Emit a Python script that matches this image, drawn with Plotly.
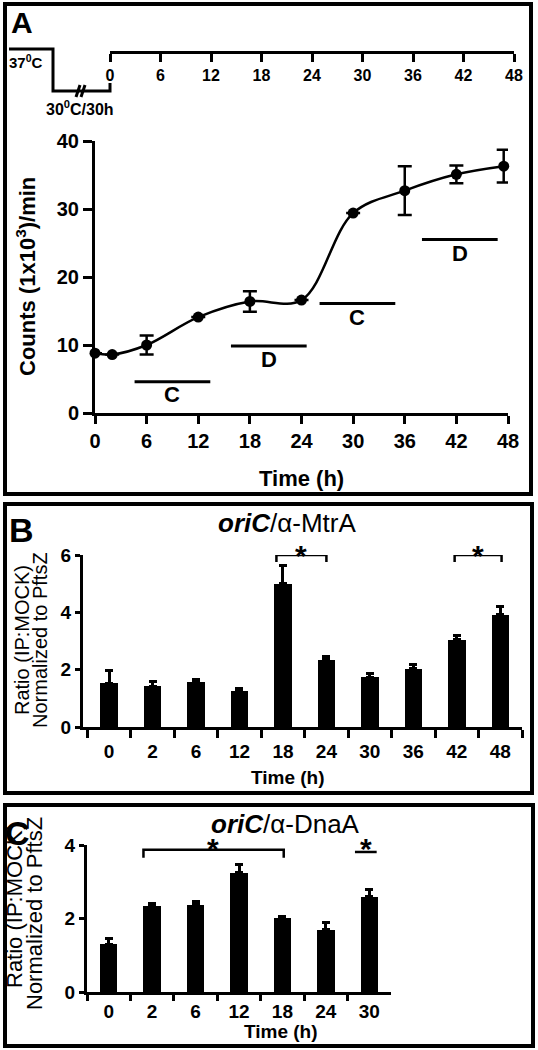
import plotly.graph_objects as go

W, H = 538, 1050
FONT = "Liberation Sans, Arial, sans-serif"

# ---------------- data ----------------
# Panel A: counts over time
a_time = [0, 2, 6, 12, 18, 24, 30, 36, 42, 47.5]
a_counts = [8.8, 8.6, 10.0, 14.1, 16.4, 16.6, 29.4, 32.7, 35.1, 36.3]
a_err = [0, 0, 1.4, 0, 1.5, 0, 0, 3.6, 1.3, 2.4]
a_ticks = [0, 6, 12, 18, 24, 30, 36, 42, 48]
a_yticks = [0, 10, 20, 30, 40]
phase_labels = ["C", "D", "C", "D"]
phase_start = [4.6, 15.8, 26.1, 38.0]
phase_end = [13.4, 24.6, 34.9, 46.8]
phase_level = [4.6, 9.85, 16.1, 25.5]
phase_label_level = [2.7, 7.9, 14.1, 23.5]
timeline_ticks = [0, 6, 12, 18, 24, 30, 36, 42, 48]

# Panel B: oriC / alpha-MtrA
b_cats = ["0", "2", "6", "12", "18", "24", "30", "36", "42", "48"]
b_vals = [1.53, 1.42, 1.58, 1.26, 4.99, 2.34, 1.74, 2.04, 3.04, 3.92]
b_err = [0.43, 0.17, 0.08, 0.09, 0.64, 0.12, 0.14, 0.15, 0.15, 0.28]
b_yticks = [0, 2, 4, 6]
b_sig_left = [3.85, 7.95]
b_sig_right = [5.0, 9.03]

# Panel C: oriC / alpha-DnaA
c_cats = ["0", "2", "6", "12", "18", "24", "30"]
c_vals = [1.30, 2.35, 2.38, 3.25, 2.02, 1.70, 2.59]
c_err = [0.15, 0.05, 0.07, 0.22, 0.04, 0.18, 0.20]
c_yticks = [0, 2, 4]


def px(x):
    return x / W


def py(y):
    return 1 - y / H


fig = go.Figure()

# Panel A curve
fig.add_trace(go.Scatter(
    x=a_time, y=a_counts, mode="lines+markers",
    line=dict(color="black", width=2.5, shape="spline", smoothing=1.0),
    marker=dict(color="black", size=11),
    error_y=dict(type="data", array=a_err, color="black", thickness=2.5, width=7),
    cliponaxis=False, xaxis="x", yaxis="y", showlegend=False))

# Panel B bars
fig.add_trace(go.Bar(
    x=b_cats, y=b_vals, width=0.4, marker=dict(color="black", line=dict(width=0)),
    error_y=dict(type="data", array=b_err, arrayminus=[0] * len(b_err), symmetric=False,
                 color="black", thickness=3, width=4),
    xaxis="x2", yaxis="y2", showlegend=False))

# Panel C bars
fig.add_trace(go.Bar(
    x=c_cats, y=c_vals, width=0.4, marker=dict(color="black", line=dict(width=0)),
    error_y=dict(type="data", array=c_err, arrayminus=[0] * len(c_err), symmetric=False,
                 color="black", thickness=3, width=4),
    xaxis="x3", yaxis="y3", showlegend=False))

# timeline helper trace (invisible)
fig.add_trace(go.Scatter(x=[0], y=[0], mode="markers", marker=dict(opacity=0),
                         xaxis="x4", yaxis="y4", showlegend=False, hoverinfo="skip"))

axis_common = dict(showgrid=False, zeroline=False, showline=True, linecolor="black",
                   ticks="outside", tickcolor="black", fixedrange=True, automargin=False)

fig.update_layout(
    template="none",
    width=W, height=H, margin=dict(l=0, r=0, t=0, b=0, pad=0), autosize=False,
    paper_bgcolor="white", plot_bgcolor="white",
    font=dict(family=FONT, color="black"),
    bargap=0,
    xaxis=dict(axis_common, domain=[px(95), px(508)], range=[0, 48], anchor="y",
               tickmode="array", tickvals=a_ticks, linewidth=3, ticklen=8, tickwidth=3,
               tickfont=dict(size=20, weight="bold")),
    yaxis=dict(axis_common, domain=[py(413), py(141)], range=[0, 40], anchor="x",
               tickmode="array", tickvals=a_yticks, linewidth=3, ticklen=9, tickwidth=3,
               tickfont=dict(size=20, weight="bold")),
    xaxis2=dict(axis_common, domain=[px(83), px(522)], range=[-0.6, 9.5], anchor="y2",
                type="category", tickson="boundaries", linewidth=3, ticklen=8, tickwidth=3,
                ticklabelstandoff=5, tickfont=dict(size=19, weight="bold")),
    yaxis2=dict(axis_common, domain=[py(727), py(555)], range=[0, 6], anchor="x2",
                tickmode="array", tickvals=b_yticks, linewidth=3, ticklen=5, tickwidth=3,
                tickfont=dict(size=19, weight="bold")),
    xaxis3=dict(axis_common, domain=[px(87), px(391)], range=[-0.5, 6.5], anchor="y3",
                type="category", tickson="boundaries", linewidth=3, ticklen=6, tickwidth=3,
                ticklabelstandoff=0, tickfont=dict(size=19, weight="bold")),
    yaxis3=dict(axis_common, domain=[py(992), py(845)], range=[0, 4], anchor="x3",
                tickmode="array", tickvals=c_yticks, linewidth=3, ticklen=5, tickwidth=3,
                tickfont=dict(size=19, weight="bold")),
    xaxis4=dict(axis_common, domain=[px(110), px(514)], range=[0, 48], anchor="y4",
                tickmode="array", tickvals=timeline_ticks, linewidth=3, ticklen=8, tickwidth=3,
                tickfont=dict(size=16, weight="bold")),
    yaxis4=dict(domain=[py(49) - 0.002, py(49)], range=[0, 1], visible=False, anchor="x4",
                fixedrange=True),
)

shapes = []
annos = []

# panel borders
for (x0, y0, x1, y1) in [(5, 4, 531, 494), (5, 504, 532, 793), (5, 805, 533, 1046)]:
    shapes.append(dict(type="rect", xref="paper", yref="paper",
                       x0=px(x0), x1=px(x1), y0=py(y1), y1=py(y0),
                       line=dict(color="black", width=4)))

# temperature step before timeline
shapes.append(dict(type="path", xref="paper", yref="paper",
                   path=f"M {px(9)},{py(49)} L {px(53)},{py(49)} L {px(53)},{py(91)} "
                        f"L {px(110)},{py(91)} L {px(110)},{py(83)}",
                   line=dict(color="black", width=3)))
for xo in (76, 81):
    shapes.append(dict(type="line", xref="paper", yref="paper",
                       x0=px(xo), y0=py(97), x1=px(xo + 4), y1=py(85),
                       line=dict(color="black", width=3)))

# phase bars (C / D)
for lab, s, e, lv, ll in zip(phase_labels, phase_start, phase_end, phase_level, phase_label_level):
    shapes.append(dict(type="line", xref="x", yref="y", x0=s, x1=e, y0=lv, y1=lv,
                       line=dict(color="black", width=3)))
    annos.append(dict(x=(s + e) / 2, y=ll, xref="x", yref="y", text=f"<b>{lab}</b>",
                      showarrow=False, font=dict(size=22), xanchor="center", yanchor="middle"))

# significance brackets panel B
for l, r in zip(b_sig_left, b_sig_right):
    shapes.append(dict(type="path", xref="x2", yref="y2",
                       path=f"M {l},5.76 L {l},6 L {r},6 L {r},5.76",
                       line=dict(color="black", width=2.5)))
    annos.append(dict(x=(l + r) / 2, y=6.0, xref="x2", yref="y2", text="<b>*</b>",
                      showarrow=False, font=dict(size=30), xanchor="center", yanchor="middle"))

# significance panel C
shapes.append(dict(type="path", xref="x3", yref="y3",
                   path="M 0.8,3.65 L 0.8,3.87 L 4.03,3.87 L 4.03,3.65",
                   line=dict(color="black", width=2.5)))
annos.append(dict(x=2.4, y=3.9, xref="x3", yref="y3", text="<b>*</b>",
                  showarrow=False, font=dict(size=30), xanchor="center", yanchor="middle"))
shapes.append(dict(type="line", xref="x3", yref="y3", x0=5.67, x1=6.17, y0=3.81, y1=3.81,
                   line=dict(color="black", width=2.5)))
annos.append(dict(x=5.93, y=3.9, xref="x3", yref="y3", text="<b>*</b>",
                  showarrow=False, font=dict(size=30), xanchor="center", yanchor="middle"))


def text(x, y, t, size, angle=0, **kw):
    d = dict(x=px(x), y=py(y), xref="paper", yref="paper", text=t, showarrow=False,
             font=dict(size=size), xanchor="center", yanchor="middle", textangle=angle)
    d.update(kw)
    annos.append(d)


# panel letters
text(22, 23, "<b>A</b>", 30)
text(21, 530, "<b>B</b>", 34)
text(17, 833, "<b>C</b>", 34)

# timeline labels
text(26, 62, "<b>37<sup>0</sup>C</b>", 15)
text(80, 108, "<b>30<sup>0</sup>C/30h</b>", 16)

# panel A titles
text(26, 277, "<b>Counts (1x10<sup>3</sup>)/min</b>", 22, -90)
text(301, 478, "<b>Time (h)</b>", 22)

# panel B titles
text(287, 523, "<b><i>oriC</i></b>/α-MtrA", 26)
text(22, 640, "Ratio (IP:MOCK)", 20, -90)
text(40, 640, "Normalized to PftsZ", 20, -90)
text(288, 777, "<b>Time (h)</b>", 19)

# panel C titles
text(285, 824, "<b><i>oriC</i></b>/α-DnaA", 26)
text(14, 906, "Ratio (IP:MOCK)", 22, -90)
text(34, 914, "Normalized to PftsZ", 22, -90)
text(281, 1031, "<b>Time (h)</b>", 19)

fig.update_layout(shapes=shapes, annotations=annos)

fig.write_html(
    "out.html",
    post_script=("document.documentElement.style.margin='0';document.body.style.margin='0';"
                 "document.body.style.padding='0';document.body.style.overflow='hidden';"),
    config={"displayModeBar": False})
